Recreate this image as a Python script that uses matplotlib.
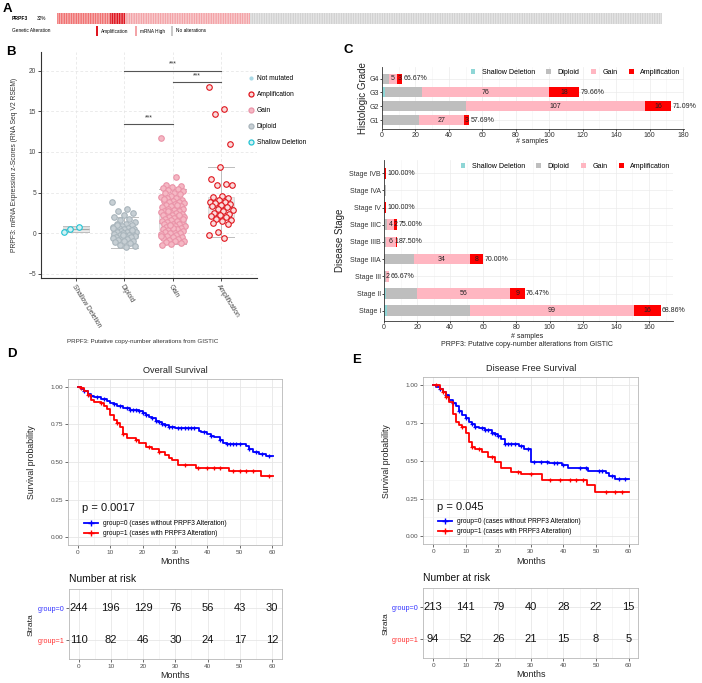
import numpy as np
import matplotlib
matplotlib.use("Agg")
import matplotlib.pyplot as plt
from matplotlib.lines import Line2D
from matplotlib.patches import Patch, Rectangle
from matplotlib.ticker import MultipleLocator

plt.rcParams["font.family"] = ["Liberation Sans", "DejaVu Sans"]

W, H = 702, 683

# ---- A: oncoprint strip (354 samples, 32% altered)
onco_counts = [31, 9, 73, 241]
onco_colors = ["#F07272", "#DF1620", "#F3A4A8", "#D2D2D2"]
onco_legend = ["Amplification", "mRNA High", "No alterations"]
onco_legend_colors = ["#DF1620", "#F3A4A8", "#C8C8C8"]

# ---- B: expression z-scores by copy number
cna_categories = ["Shallow Deletion", "Diploid", "Gain", "Amplification"]
shallow_z = [0.1, 0.8, 0.5]
diploid_z = [3.9, 3.0, 2.7, 2.5, 2.2, 2.0, 1.8, 1.6, 1.4, 1.2, 1.1, 1.0, 0.9, 0.8,
             0.7, 0.6, 0.5, 0.5, 0.4, 0.3, 0.3, 0.2, 0.1, 0.1, 0.0, 0.0, -0.1, -0.2,
             -0.2, -0.3, -0.3, -0.4, -0.5, -0.5, -0.6, -0.7, -0.8, -0.9, -1.0, -1.1,
             -1.2, -1.4, -1.6, -1.7, 1.0, 0.4, -0.2, 0.6]
gain_z = [11.7, 6.9, 5.9, 5.8, 5.7, 5.6, 5.5, 5.3, 5.2, 5.0, 4.9, 4.8, 4.6, 4.5, 4.4,
          4.3, 4.1, 4.0, 4.0, 3.9, 3.8, 3.7, 3.6, 3.5, 3.4, 3.3, 3.2, 3.1, 3.0, 3.0,
          2.9, 2.8, 2.7, 2.6, 2.6, 2.5, 2.4, 2.4, 2.3, 2.2, 2.1, 2.0, 2.0, 1.9, 1.8,
          1.7, 1.6, 1.5, 1.5, 1.4, 1.3, 1.2, 1.2, 1.1, 1.0, 0.9, 0.9, 0.8, 0.7, 0.6,
          0.5, 0.5, 0.4, 0.3, 0.2, 0.1, 0.0, 0.0, -0.1, -0.2, -0.3, -0.4, -0.5, -0.6,
          -0.7, -0.8, -0.9, -1.0, -1.1, -1.2, -1.3, -1.4, 3.5, 2.8, 1.8, 0.6, 4.2,
          2.2, 1.0, -0.3]
amp_z = [18.0, 15.3, 14.7, 11.0, 8.2, 6.7, 6.1, 6.0, 5.9, 4.6, 4.5, 4.3, 4.1, 3.9,
         3.8, 3.7, 3.6, 3.5, 3.4, 3.2, 3.0, 2.9, 2.7, 2.5, 2.4, 2.2, 2.1, 2.0, 1.8,
         1.6, 1.5, 1.3, 1.1, 0.2, -0.2, -0.6]
box_q1 = [0.2, -0.6, 0.4, 2.0]
box_med = [0.5, -0.3, 1.25, 3.2]
box_q3 = [0.8, 0.35, 2.4, 4.5]
box_lo = [0.1, -1.75, -1.35, -0.5]
box_hi = [0.9, 2.0, 5.5, 8.1]
sig_pairs = [(1, 2), (2, 3), (1, 3)]
sig_heights = [13.4, 18.6, 20.0]

# ---- C: copy number by grade / stage
cna_legend = ["Shallow Deletion", "Diploid", "Gain", "Amplification"]
cna_colors = ["#8FD6D6", "#BEBEBE", "#FFB6C1", "#FF0000"]
grade_labels = ["G1", "G2", "G3", "G4"]
grade_shallow = [0, 0, 2, 0]
grade_diploid = [22, 50, 22, 4]
grade_gain = [27, 107, 76, 5]
grade_amp = [3, 16, 18, 3]
grade_pct = ["57.69%", "71.09%", "79.66%", "66.67%"]
stage_labels = ["Stage I", "Stage II", "Stage III", "Stage IIIA", "Stage IIIB",
                "Stage IIIC", "Stage IV", "Stage IVA", "Stage IVB"]
stage_shallow = [2, 1, 0, 0, 0, 0, 0, 0, 0]
stage_diploid = [50, 19, 1, 18, 1, 2, 0, 1, 0]
stage_gain = [99, 56, 2, 34, 6, 4, 0, 0, 0]
stage_amp = [16, 9, 0, 8, 1, 2, 1, 0, 1]
stage_pct = ["68.86%", "76.47%", "66.67%", "70.00%", "87.50%", "75.00%",
             "100.00%", "", "100.00%"]

# ---- D/E: Kaplan-Meier curves (step times, survival after step, censor times)
os_t0 = [0, 1, 2, 3, 4, 5, 7, 9, 10, 11, 12, 14, 16, 19, 20, 21, 22, 23, 24, 25, 26,
         27, 28, 30, 37.5, 38, 40, 41, 42, 44, 45, 46, 52, 53, 54, 56, 58, 60.2]
os_s0 = [1.0, 0.985, 0.97, 0.955, 0.94, 0.93, 0.92, 0.905, 0.895, 0.885, 0.875,
         0.86, 0.848, 0.838, 0.825, 0.81, 0.80, 0.79, 0.775, 0.765, 0.755, 0.745,
         0.735, 0.725, 0.71, 0.70, 0.685, 0.675, 0.665, 0.645, 0.63, 0.62, 0.61,
         0.59, 0.57, 0.555, 0.54, 0.54]
os_c0 = [2, 4, 6, 8, 11, 13, 15, 16, 17, 18, 19, 20, 21, 23, 24, 25, 26, 27, 28, 29,
         31, 32, 33, 34, 35, 36, 39, 41, 44, 46, 47, 48, 49, 50, 53, 55, 57, 59]
os_t1 = [0, 1, 2, 3, 4, 5, 7, 8, 9, 10, 11, 12, 13, 14, 15, 18, 19, 21, 23, 25, 27,
         28, 29, 31, 36.5, 46.8, 56.5, 60.2]
os_s1 = [1.0, 0.99, 0.97, 0.945, 0.915, 0.90, 0.89, 0.87, 0.85, 0.81, 0.78, 0.76,
         0.735, 0.69, 0.66, 0.65, 0.625, 0.60, 0.585, 0.57, 0.545, 0.53, 0.515,
         0.478, 0.46, 0.438, 0.41, 0.41]
os_c1 = [1, 3, 7, 12, 14, 18, 22, 25, 33, 37, 40, 42, 44, 48, 50, 52, 54, 59]

dfs_t0 = [0, 1, 2, 3, 4, 5, 6, 7, 8, 9, 10, 11, 12, 13, 14, 16, 18, 19, 20, 21, 22,
          26.5, 28, 30, 35.5, 39.5, 41.5, 47.5, 53, 54, 56, 60.2]
dfs_s0 = [1.0, 0.985, 0.97, 0.95, 0.93, 0.90, 0.88, 0.86, 0.83, 0.80, 0.78, 0.755,
          0.74, 0.725, 0.715, 0.70, 0.685, 0.675, 0.66, 0.645, 0.61, 0.595, 0.575,
          0.49, 0.485, 0.47, 0.45, 0.43, 0.42, 0.40, 0.38, 0.38]
dfs_c0 = [2, 4, 6, 8, 10, 12, 13, 15, 16, 17, 18, 19, 20, 22, 23, 24, 25, 27, 29,
          31, 33, 35, 37, 38, 40, 45, 47, 51, 52, 55, 57, 59]
dfs_t1 = [0, 2, 3, 4, 5, 6, 7, 8, 9, 10, 11, 12, 13, 15, 17, 19, 21, 24, 27, 33.5,
          47.2, 49.8, 60.2]
dfs_s1 = [1.0, 0.975, 0.95, 0.92, 0.89, 0.81, 0.755, 0.735, 0.72, 0.68, 0.62, 0.59,
          0.575, 0.555, 0.525, 0.49, 0.45, 0.425, 0.41, 0.375, 0.34, 0.295, 0.295]
dfs_c1 = [1, 3, 4, 9, 12, 14, 18, 26, 30, 36, 39, 42, 44, 46, 53, 56, 58]

risk_times = [0, 10, 20, 30, 40, 50, 60]
os_risk0 = [244, 196, 129, 76, 56, 43, 30]
os_risk1 = [110, 82, 46, 30, 24, 17, 12]
dfs_risk0 = [213, 141, 79, 40, 28, 22, 15]
dfs_risk1 = [94, 52, 26, 21, 15, 8, 5]

BLUE = "#0000FF"
RED = "#FF0000"
group_labels = ["group=0 (cases without PRPF3 Alteration)",
                "group=1 (cases with PRPF3 Alteration)"]


def add_px_axes(fig, left, top, right, bottom):
    return fig.add_axes([left / W, 1 - bottom / H, (right - left) / W, (bottom - top) / H])


def fig_text(fig, x, y, s, **kw):
    kw.setdefault("va", "center")
    return fig.text(x / W, 1 - y / H, s, **kw)


def jitter(n, width):
    return ((np.arange(n) * 0.618034) % 1.0 - 0.5) * width


def draw_oncoprint(fig):
    ax = add_px_axes(fig, 57, 13, 662, 24)
    colors = np.repeat(onco_colors, onco_counts)
    x = np.arange(len(colors))
    ax.bar(x, np.ones(len(x)), width=0.82, color=colors, lw=0, snap=False)
    ax.set_xlim(-0.5, len(x) - 0.5)
    ax.set_ylim(0, 1)
    ax.axis("off")
    fig_text(fig, 12, 18.5, "PRPF3", fontsize=3.6, fontweight="bold")
    fig_text(fig, 37, 18.5, "32%", fontsize=3.4)
    fig_text(fig, 12, 31, "Genetic Alteration", fontsize=3.4)
    for xs, lab, col in zip([96, 135, 171], onco_legend, onco_legend_colors):
        fig.add_artist(Rectangle((xs / W, 1 - 35.5 / H), 2.2 / W, 9 / H,
                                 transform=fig.transFigure, color=col, lw=0))
        fig_text(fig, xs + 4.5, 31, lab, fontsize=3.4)


def draw_expression(fig):
    ax = add_px_axes(fig, 41, 52, 257, 278)
    pos = np.arange(1, 5)
    stats = [dict(med=m, q1=a, q3=b, whislo=lo, whishi=hi)
             for a, m, b, lo, hi in zip(box_q1, box_med, box_q3, box_lo, box_hi)]
    ax.bxp(stats, positions=pos, widths=0.55, capwidths=0.55, showfliers=False,
           patch_artist=True,
           boxprops=dict(facecolor="#EBEBEB", edgecolor="#D5D5D5", lw=0.5),
           medianprops=dict(color="#A8A8A8", lw=0.9),
           whiskerprops=dict(color="#BDBDBD", lw=0.7),
           capprops=dict(color="#BDBDBD", lw=0.7))
    groups = [shallow_z, diploid_z, gain_z, amp_z]
    faces = ["#D2F1F4", "#C7CFD4", "#F5B8C4", "#FBDCDC"]
    edges = ["#22C3D3", "#A9B5BC", "#EA93A8", "#E0141C"]
    for p, vals, fc, ec in zip(pos, groups, faces, edges):
        ax.scatter(p + jitter(len(vals), 0.5), vals, s=16, facecolor=fc,
                   edgecolor=ec, lw=0.8, zorder=3)
    for (a, b), h in zip(sig_pairs, sig_heights):
        ax.plot([pos[a], pos[b]], [h, h], color="#555555", lw=0.8)
        ax.text((pos[a] + pos[b]) / 2, h + 0.35, "***", ha="center", va="bottom",
                fontsize=5, color="#333333")
    ax.set_xlim(0.276, 4.745)
    ax.set_ylim(-5.5, 22.3)
    ax.set_yticks([-5, 0, 5, 10, 15, 20])
    ax.set_xticks(pos)
    ax.set_xticklabels(cna_categories, rotation=-58, ha="left", va="top",
                       rotation_mode="anchor")
    ax.grid(True, ls=(0, (4, 3)), color="#E3E3E3", lw=0.5)
    ax.set_axisbelow(True)
    for side in ("top", "right"):
        ax.spines[side].set_visible(False)
    for side in ("left", "bottom"):
        ax.spines[side].set_color("#333333")
        ax.spines[side].set_linewidth(0.8)
    ax.tick_params(length=2, width=0.5, labelsize=4.8, labelcolor="#444444", pad=1.5)
    fig_text(fig, 15, 165, "PRPF3: mRNA Expression z-Scores (RNA Seq V2 RSEM)",
             fontsize=4.9, rotation=90, ha="center", color="#333333")
    fig_text(fig, 143, 342, "PRPF3: Putative copy-number alterations from GISTIC",
             fontsize=4.5, ha="center", color="#333333")
    handles = [Line2D([], [], ls="none", marker="o", ms=2.0, color="#A9D9E6")]
    for fc, ec in zip(faces[::-1], edges[::-1]):
        handles.append(Line2D([], [], ls="none", marker="o", ms=3.6, mfc=fc,
                              mec=ec, mew=0.9))
    ax.legend(handles, ["Not mutated", "Amplification", "Gain", "Diploid",
                        "Shallow Deletion"],
              loc="upper left", bbox_to_anchor=(244 / W, 1 - 72 / H),
              bbox_transform=fig.transFigure, frameon=False, fontsize=4.8,
              handlelength=1.0, handletextpad=0.4, labelspacing=1.35, borderpad=0)


def draw_stacked(fig, box, labels, shallow, diploid, gain, amp, pct, xmax, height,
                 ylim, ylabel, ylabel_x, legend_at):
    ax = add_px_axes(fig, *box)
    y = np.arange(len(labels))
    left = np.zeros(len(labels))
    parts = [np.asarray(v, float) for v in (shallow, diploid, gain, amp)]
    total = sum(parts)
    for k, (vals, col) in enumerate(zip(parts, cna_colors)):
        ax.barh(y, vals, left=left, height=height, color=col, lw=0)
        if k >= 2:
            for yi, l0, v, tot in zip(y, left, vals, total):
                if v > 0 and tot > 1:
                    ax.text(l0 + v / 2, yi, f"{int(v)}", ha="center", va="center",
                            fontsize=5, color="#222222")
        left = left + vals
    for yi, tot, s in zip(y, total, pct):
        if s:
            ax.text(tot + 0.8, yi, s, ha="left", va="center", fontsize=5,
                    color="#222222")
    ax.set_xlim(0, xmax)
    ax.set_ylim(*ylim)
    ax.set_yticks(y)
    ax.set_yticklabels(labels)
    ax.xaxis.set_major_locator(MultipleLocator(20))
    ax.xaxis.set_minor_locator(MultipleLocator(10))
    ax.grid(True, which="major", color="#EBEBEB", lw=0.5)
    ax.grid(True, which="minor", axis="x", color="#F3F3F3", lw=0.4)
    ax.set_axisbelow(True)
    for side in ("top", "right"):
        ax.spines[side].set_visible(False)
    for side in ("left", "bottom"):
        ax.spines[side].set_color("#333333")
        ax.spines[side].set_linewidth(0.6)
    ax.tick_params(which="major", length=1.5, width=0.5, labelsize=5,
                   labelcolor="#333333", pad=0.8)
    ax.tick_params(which="minor", length=0)
    mid_y = (box[1] + box[3]) / 2
    fig_text(fig, ylabel_x, mid_y, ylabel, rotation=90, ha="center", fontsize=7,
             color="#222222")
    handles = [Patch(facecolor=c, lw=0) for c in cna_colors]
    ax.legend(handles, cna_legend, ncol=4, loc="center right",
              bbox_to_anchor=(legend_at[0] / W, 1 - legend_at[1] / H),
              bbox_transform=fig.transFigure, frameon=False, fontsize=5.1,
              handlelength=0.7, handleheight=0.7, handletextpad=0.9,
              columnspacing=1.6, borderpad=0)
    return ax


def style_km(ax):
    for sp in ax.spines.values():
        sp.set_color("#B8B8B8")
        sp.set_linewidth(0.6)
    ax.set_xlim(-3, 63)
    ax.xaxis.set_major_locator(MultipleLocator(10))
    ax.xaxis.set_minor_locator(MultipleLocator(5))
    ax.grid(True, which="major", color="#E6E6E6", lw=0.6)
    ax.grid(True, which="minor", color="#F0F0F0", lw=0.4)
    ax.set_axisbelow(True)
    ax.tick_params(which="major", length=2, width=0.5, color="#333333",
                   labelsize=4.6, labelcolor="#4D4D4D", pad=1.5)
    ax.tick_params(which="minor", length=0)


def draw_km(fig, box, title, curves, pval, p_at, legend_at):
    ax = add_px_axes(fig, *box)
    for t, s, c, col in curves:
        ax.step(t, s, where="post", color=col, lw=1.3)
        idx = np.searchsorted(t, c, side="right") - 1
        ax.plot(c, np.asarray(s)[idx], ls="none", marker="+", ms=3.5, mew=0.9,
                color=col)
    style_km(ax)
    ax.set_ylim(-0.05, 1.05)
    ax.set_yticks([0, 0.25, 0.5, 0.75, 1.0])
    ax.set_yticklabels(["0.00", "0.25", "0.50", "0.75", "1.00"])
    ax.yaxis.set_minor_locator(MultipleLocator(0.125))
    cx = (box[0] + box[2]) / 2
    fig_text(fig, cx, box[1] - 9, title, ha="center", fontsize=6.6, color="#222222")
    fig_text(fig, box[0] - 36.5, (box[1] + box[3]) / 2, "Survival probability",
             rotation=90, ha="center", fontsize=6.3, color="#222222")
    fig_text(fig, cx, box[3] + 17, "Months", ha="center", fontsize=6.4,
             color="#222222")
    fig_text(fig, p_at[0], p_at[1], pval, ha="left", fontsize=8, color="#111111")
    handles = [Line2D([], [], color=c, lw=1.3, marker="+", ms=4, mew=1)
               for c in (BLUE, RED)]
    ax.legend(handles, group_labels, loc="upper left",
              bbox_to_anchor=(legend_at[0] / W, 1 - legend_at[1] / H),
              bbox_transform=fig.transFigure, frameon=False, fontsize=4.8,
              handlelength=2.0, handletextpad=0.8, labelspacing=0.45, borderpad=0)


def draw_risk(fig, box, risk0, risk1):
    ax = add_px_axes(fig, *box)
    style_km(ax)
    for row, vals in ((1, risk0), (0, risk1)):
        for x, v in zip(risk_times, vals):
            ax.text(x, row, str(v), ha="center", va="center", fontsize=8,
                    color="#111111")
    ax.set_ylim(-0.6, 1.6)
    ax.set_yticks([0, 1])
    ax.set_yticklabels(["group=1", "group=0"])
    ax.get_yticklabels()[0].set_color("#FF3333")
    ax.get_yticklabels()[1].set_color("#3333FF")
    ax.tick_params(axis="y", labelsize=5.2)
    fig_text(fig, box[0], box[1] - 10.5, "Number at risk", ha="left", fontsize=7.4,
             color="#111111")
    fig_text(fig, box[0] - 37.5, (box[1] + box[3]) / 2, "Strata", rotation=90,
             ha="center", fontsize=6.1, color="#222222")
    fig_text(fig, (box[0] + box[2]) / 2, box[3] + 16.5, "Months", ha="center",
             fontsize=6.4, color="#222222")


def main() -> None:
    fig = plt.figure(figsize=(W / 100, H / 100), dpi=100)
    fig.patch.set_facecolor("white")

    for lab, x, y in (("A", 7, 9), ("B", 11, 52), ("C", 348, 50), ("D", 12, 354),
                      ("E", 357, 360)):
        fig_text(fig, x, y, lab, ha="center", fontsize=9.5, fontweight="bold")

    draw_oncoprint(fig)
    draw_expression(fig)

    draw_stacked(fig, (382, 67, 684, 128.5), grade_labels, grade_shallow,
                 grade_diploid, grade_gain, grade_amp, grade_pct, 180.6, 0.72,
                 (-0.6, 3.84), "Histologic Grade", 363, (684, 72))
    fig_text(fig, 532, 141.5, "# samples", ha="center", fontsize=5, color="#222222")
    draw_stacked(fig, (384, 160, 673, 321), stage_labels, stage_shallow,
                 stage_diploid, stage_gain, stage_amp, stage_pct, 174.5, 0.62,
                 (-0.6, 8.77), "Disease Stage", 340, (674, 166))
    fig_text(fig, 527, 336, "# samples", ha="center", fontsize=5, color="#222222")
    fig_text(fig, 527, 344.5, "PRPF3: Putative copy-number alterations from GISTIC",
             ha="center", fontsize=5, color="#222222")

    draw_km(fig, (68.3, 379.3, 281.7, 545), "Overall Survival",
            [(os_t0, os_s0, os_c0, BLUE), (os_t1, os_s1, os_c1, RED)],
            "p = 0.0017", (82.5, 508), (81, 517))
    draw_risk(fig, (69, 589.3, 281.7, 659.3), os_risk0, os_risk1)

    draw_km(fig, (423.3, 377.3, 638.3, 544), "Disease Free Survival",
            [(dfs_t0, dfs_s0, dfs_c0, BLUE), (dfs_t1, dfs_s1, dfs_c1, RED)],
            "p = 0.045", (437, 506.5), (435, 514.5))
    draw_risk(fig, (423.3, 588.3, 638.3, 658.3), dfs_risk0, dfs_risk1)

    fig.savefig("out.png", dpi=100)
    plt.close(fig)


if __name__ == "__main__":
    main()
